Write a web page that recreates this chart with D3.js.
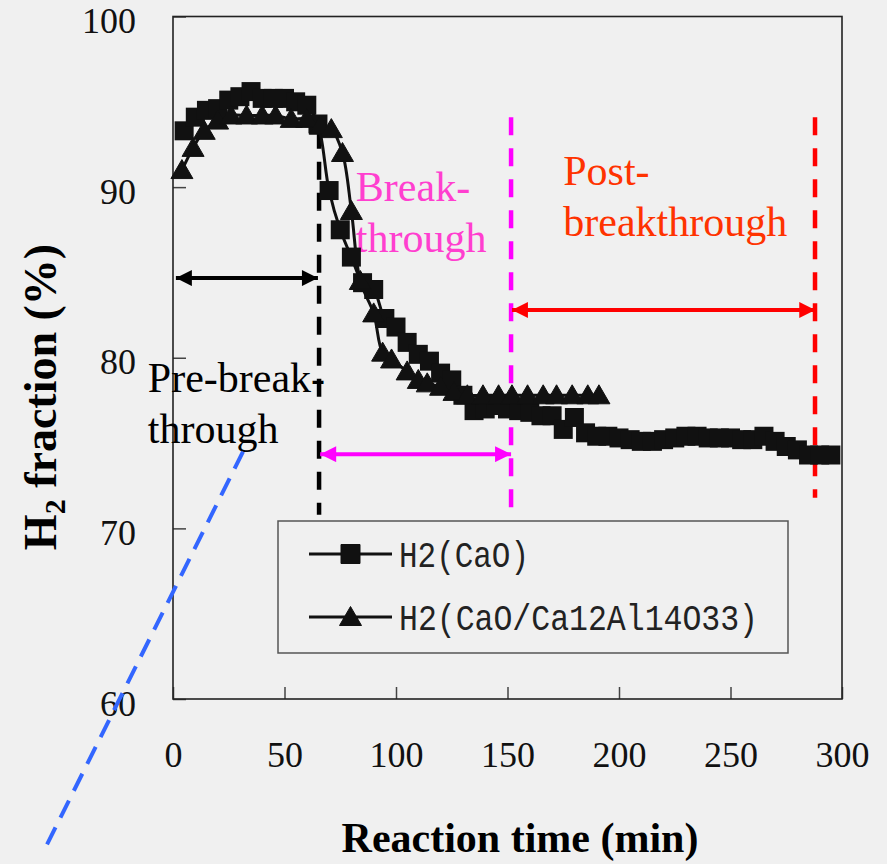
<!DOCTYPE html>
<html>
<head>
<meta charset="utf-8">
<script src="https://cdn.jsdelivr.net/npm/d3@7"></script>
<style>
  body { margin: 0; background: #f0f0f0; }
  svg { display: block; }
</style>
</head>
<body>
<div id="chart"></div>
<script>
// chart size
var svgWidth = 887;
var svgHeight = 864;

var margin = { top: 16.5, right: 45, bottom: 165, left: 173 };
var width = svgWidth - margin.left - margin.right;
var height = svgHeight - margin.top - margin.bottom;

// data
var caoTime = [5, 10, 15, 20, 25, 30, 35, 40, 45, 50, 55, 60, 65, 70, 75, 80, 85, 90, 95, 100,
  105, 110, 115, 120, 125, 130, 135, 140, 145, 150, 155, 160, 165, 170, 175, 180, 185, 190, 195, 200,
  205, 210, 215, 220, 225, 230, 235, 240, 245, 250, 255, 260, 265, 270, 275, 280, 285, 290, 295];
var caoH2 = [93.3, 94.1, 94.5, 94.6, 95.1, 95.3, 95.6, 95.2, 95.2, 95.2, 95.0, 94.8, 93.7, 89.8, 87.5, 85.9, 84.4, 84.0, 82.3, 81.8,
  80.9, 80.2, 79.8, 79.1, 78.7, 77.8, 76.9, 77.0, 77.2, 77.0, 76.9, 76.8, 76.6, 76.6, 75.8, 76.5, 75.6, 75.4, 75.4, 75.3,
  75.2, 75.1, 75.1, 75.2, 75.3, 75.4, 75.4, 75.3, 75.3, 75.3, 75.2, 75.2, 75.4, 75.1, 74.8, 74.6, 74.3, 74.3, 74.3];

var mixTime = [4, 9, 14, 20, 26, 33, 40, 46, 53, 60, 66, 71, 76, 80, 84, 90, 94, 98, 105, 110,
  114, 120, 126, 132, 139, 146, 152, 159, 166, 172, 179, 186, 191];
var mixH2 = [91.0, 92.3, 93.3, 93.9, 94.2, 94.2, 94.2, 94.2, 94.0, 94.0, 93.6, 93.4, 92.0, 88.6, 84.5, 82.6, 80.3, 79.9, 79.2, 78.7,
  78.5, 78.3, 78.0, 77.8, 77.8, 77.8, 77.8, 77.8, 77.8, 77.8, 77.8, 77.8, 77.8];

var xTicks = [0, 50, 100, 150, 200, 250, 300];
var yTicks = [60, 70, 80, 90, 100];

var seriesNames = ["H2(CaO)", "H2(CaO/Ca12Al14O33)"];

// stage boundaries (min) and annotation arrows
var stageLines = [
  { t: 65.5, y0: 93.3, y1: 70.8, color: "#000000" },
  { t: 151.6, y0: 94.1, y1: 70.6, color: "#ff00ff" },
  { t: 287.9, y0: 94.1, y1: 71.8, color: "#ff0000" }
];
var stageArrows = [
  { t0: 1.3, t1: 65, y: 84.67, color: "#000000" },
  { t0: 66, t1: 151.6, y: 74.35, color: "#ff00ff" },
  { t0: 152, t1: 288, y: 82.8, color: "#ff0000" }
];
var stageLabels = [
  { t: -11.3, y: 78.0, lines: ["Pre-break-", "through"], color: "#000000" },
  { t: 82, y: 89.2, lines: ["Break-", "through"], color: "#ff3fcf" },
  { t: 175, y: 90.1, lines: ["Post-", "breakthrough"], color: "#ff3300" }
];
var blueLine = [{ t: 31.4, y: 74.5 }, { t: -58.3, y: 51.0 }];

var svg = d3.select("#chart")
  .append("svg")
  .attr("width", svgWidth)
  .attr("height", svgHeight);

var defs = svg.append("defs");
stageArrows.forEach(function(a, i) {
  defs.append("marker")
    .attr("id", "arrow" + i)
    .attr("markerUnits", "userSpaceOnUse")
    .attr("viewBox", "0 0 10 10")
    .attr("refX", 10)
    .attr("refY", 5)
    .attr("markerWidth", 17)
    .attr("markerHeight", 16)
    .attr("orient", "auto-start-reverse")
    .append("path")
    .attr("d", "M0,0 L10,5 L0,10 z")
    .attr("fill", a.color);
});

var chartGroup = svg.append("g")
  .attr("transform", `translate(${margin.left}, ${margin.top})`);

var xScale = d3.scaleLinear().domain([0, 300]).range([0, width]);
var yScale = d3.scaleLinear().domain([60, 100]).range([height, 0]);

// axes, ticks point inward
var bottomAxis = d3.axisBottom(xScale).tickValues(xTicks).tickSizeInner(-12).tickSizeOuter(0);
var leftAxis = d3.axisLeft(yScale).tickValues(yTicks).tickSizeInner(-13).tickSizeOuter(0);

var xAxis = chartGroup.append("g")
  .attr("transform", `translate(0, ${height})`)
  .call(bottomAxis);
xAxis.select(".domain").remove();
xAxis.selectAll("line").attr("stroke", "#444").attr("stroke-width", 1.5);
xAxis.selectAll("text")
  .attr("y", 68)
  .attr("dy", 0)
  .attr("fill", "#111")
  .style("font-family", "'Liberation Serif', serif")
  .style("font-size", "36px");

var yAxis = chartGroup.append("g").call(leftAxis);
yAxis.select(".domain").remove();
yAxis.selectAll("line").attr("stroke", "#444").attr("stroke-width", 1.5);
yAxis.selectAll("text")
  .attr("x", -37)
  .attr("dy", 16)
  .attr("fill", "#111")
  .style("font-family", "'Liberation Serif', serif")
  .style("font-size", "36px");

// plot frame
chartGroup.append("rect")
  .attr("x", 0)
  .attr("y", 0)
  .attr("width", width)
  .attr("height", height)
  .attr("fill", "none")
  .attr("stroke", "#222")
  .attr("stroke-width", 1.6);

// stage boundary dashed lines
chartGroup.selectAll(".stage-line")
  .data(stageLines)
  .enter()
  .append("line")
  .attr("x1", d => xScale(d.t))
  .attr("x2", d => xScale(d.t))
  .attr("y1", d => yScale(d.y0))
  .attr("y2", d => yScale(d.y1))
  .attr("stroke", d => d.color)
  .attr("stroke-width", 4.5)
  .attr("stroke-dasharray", "18,13");

// double arrows
chartGroup.selectAll(".stage-arrow")
  .data(stageArrows)
  .enter()
  .append("line")
  .attr("x1", d => xScale(d.t0))
  .attr("x2", d => xScale(d.t1))
  .attr("y1", d => yScale(d.y))
  .attr("y2", d => yScale(d.y))
  .attr("stroke", d => d.color)
  .attr("stroke-width", 4)
  .attr("marker-start", (d, i) => `url(#arrow${i})`)
  .attr("marker-end", (d, i) => `url(#arrow${i})`);

// stage labels
stageLabels.forEach(function(lab) {
  var t = chartGroup.append("text")
    .attr("x", xScale(lab.t))
    .attr("y", yScale(lab.y))
    .attr("fill", lab.color)
    .style("font-family", "'Liberation Serif', serif")
    .style("font-size", "42px");
  lab.lines.forEach(function(s, i) {
    t.append("tspan")
      .attr("x", xScale(lab.t))
      .attr("dy", i === 0 ? 0 : 51)
      .text(s);
  });
});

// series lines
var caoData = caoTime.map((t, i) => ({ t: t, v: caoH2[i] }));
var mixData = mixTime.map((t, i) => ({ t: t, v: mixH2[i] }));

var lineGen = d3.line()
  .x(d => xScale(d.t))
  .y(d => yScale(d.v))
  .curve(d3.curveCatmullRom.alpha(0.5));

chartGroup.append("path")
  .datum(caoData)
  .attr("d", lineGen)
  .attr("fill", "none")
  .attr("stroke", "#111")
  .attr("stroke-width", 3);

chartGroup.append("path")
  .datum(mixData)
  .attr("d", lineGen)
  .attr("fill", "none")
  .attr("stroke", "#111")
  .attr("stroke-width", 3);

var squarePath = "M-9.5,-9.5 L9.5,-9.5 L9.5,9.5 L-9.5,9.5 Z";
var trianglePath = "M0,-10.5 L11,8.5 L-11,8.5 Z";

chartGroup.selectAll(".sq")
  .data(caoData)
  .enter()
  .append("path")
  .attr("d", squarePath)
  .attr("transform", d => `translate(${xScale(d.t)}, ${yScale(d.v)})`)
  .attr("fill", "#111");

chartGroup.selectAll(".tri")
  .data(mixData)
  .enter()
  .append("path")
  .attr("d", trianglePath)
  .attr("transform", d => `translate(${xScale(d.t)}, ${yScale(d.v)})`)
  .attr("fill", "#111")
  .attr("stroke", "#111")
  .attr("stroke-width", 1)
  .attr("stroke-linejoin", "round");

// legend
var legend = svg.append("g").attr("transform", "translate(278, 521)");
legend.append("rect")
  .attr("width", 510)
  .attr("height", 132)
  .attr("fill", "#f0f0f0")
  .attr("stroke", "#555")
  .attr("stroke-width", 1.5);

var legendRows = [
  { name: seriesNames[0], marker: squarePath, y: 33, len: 130 },
  { name: seriesNames[1], marker: trianglePath, y: 96, len: 359 }
];
legendRows.forEach(function(r) {
  legend.append("line")
    .attr("x1", 31)
    .attr("x2", 114)
    .attr("y1", r.y)
    .attr("y2", r.y)
    .attr("stroke", "#111")
    .attr("stroke-width", 3);
  legend.append("path")
    .attr("d", r.marker)
    .attr("transform", `translate(72.5, ${r.y})`)
    .attr("fill", "#111")
    .attr("stroke", "#111")
    .attr("stroke-width", 1)
    .attr("stroke-linejoin", "round");
  legend.append("text")
    .attr("x", 121)
    .attr("y", r.y + 13)
    .attr("textLength", r.len)
    .attr("lengthAdjust", "spacingAndGlyphs")
    .attr("fill", "#222")
    .style("font-family", "'Liberation Mono', monospace")
    .style("font-size", "36px")
    .text(r.name);
});

// stray blue dashed line
svg.append("line")
  .attr("x1", margin.left + xScale(blueLine[0].t))
  .attr("y1", margin.top + yScale(blueLine[0].y))
  .attr("x2", margin.left + xScale(blueLine[1].t))
  .attr("y2", margin.top + yScale(blueLine[1].y))
  .attr("stroke", "#3366ff")
  .attr("stroke-width", 4)
  .attr("stroke-dasharray", "19,11");

// axis titles
svg.append("text")
  .attr("x", 520)
  .attr("y", 852)
  .attr("text-anchor", "middle")
  .attr("fill", "#000")
  .style("font-family", "'Liberation Serif', serif")
  .style("font-size", "42px")
  .style("font-weight", "bold")
  .text("Reaction time (min)");

var yTitle = svg.append("text")
  .attr("transform", "translate(56, 397) rotate(-90)")
  .attr("text-anchor", "middle")
  .attr("fill", "#000")
  .style("font-family", "'Liberation Serif', serif")
  .style("font-size", "46px")
  .style("font-weight", "bold");
yTitle.append("tspan").text("H");
yTitle.append("tspan").attr("dy", 9).style("font-size", "30px").text("2");
yTitle.append("tspan").attr("dy", -9).text(" fraction (%)");
</script>
</body>
</html>
